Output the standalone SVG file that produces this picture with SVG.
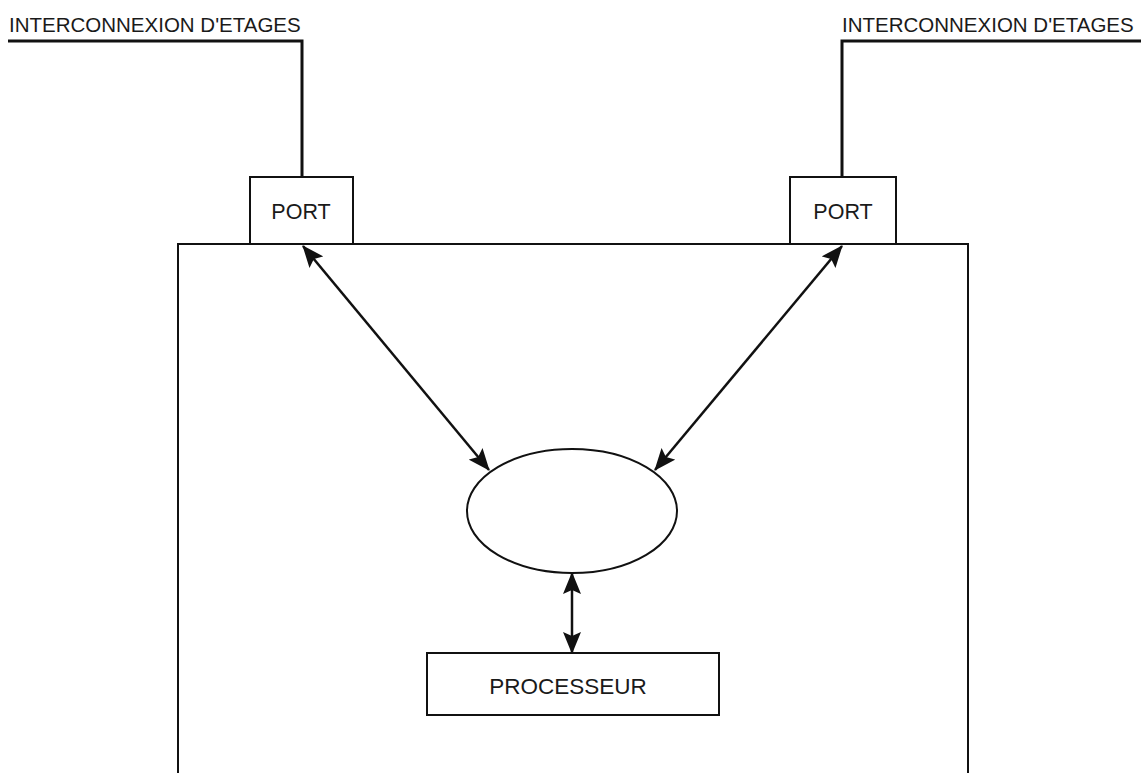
<svg xmlns="http://www.w3.org/2000/svg" width="1141" height="773" viewBox="0 0 1141 773">
<style>
text{font-family:"Liberation Sans",Arial,sans-serif;fill:#1a1a1a}
.box{fill:#fff;stroke:#111;stroke-width:2}
.wire{fill:none;stroke:#111;stroke-width:3}
.arr{fill:none;stroke:#111;stroke-width:2.5;marker-start:url(#ah);marker-end:url(#ah)}
</style>
<defs>
<marker id="ah" viewBox="0 0 22 18" refX="21" refY="9" markerWidth="22" markerHeight="18" markerUnits="userSpaceOnUse" orient="auto-start-reverse">
<path d="M0,0 L22,9 L0,18 L4,9 Z" fill="#111"/>
</marker>
</defs>
<rect width="1141" height="773" fill="#fff"/>
<g id="chassis"><path class="box" d="M178,780 L178,244 L968,244 L968,780" fill="none"/></g>
<g id="label-left"><text x="9" y="32" font-size="20.5">INTERCONNEXION D'ETAGES</text></g>
<g id="label-right"><text x="842" y="32" font-size="20.5">INTERCONNEXION D'ETAGES</text></g>
<g id="connectors">
<path class="wire" d="M8,41 L302,41 L302,177"/>
<path class="wire" d="M1141,41 L842,41 L842,177"/>
<line class="arr" x1="303" y1="246" x2="489" y2="470"/>
<line class="arr" x1="842" y1="246" x2="655" y2="470"/>
<line class="arr" x1="572" y1="573" x2="572" y2="653"/>
</g>
<g id="port-left"><rect class="box" x="250" y="177" width="103" height="67"/><text x="301" y="219" font-size="21.5" text-anchor="middle">PORT</text></g>
<g id="port-right"><rect class="box" x="790" y="177" width="106" height="67"/><text x="843" y="219" font-size="21.5" text-anchor="middle">PORT</text></g>
<g id="bus"><ellipse class="box" cx="572" cy="511" rx="105" ry="62"/></g>
<g id="processeur"><rect class="box" x="427" y="653" width="292" height="62"/><text x="568" y="694" font-size="22.5" text-anchor="middle">PROCESSEUR</text></g>
</svg>
